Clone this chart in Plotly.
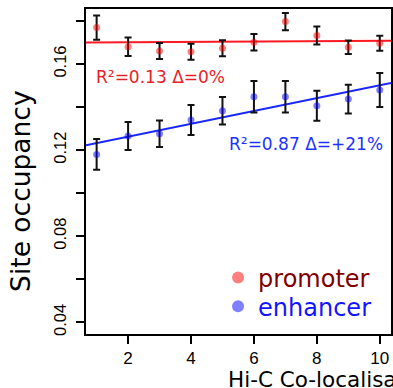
import plotly.graph_objects as go
import numpy as np

# ---- data ----
colocalisation = [1, 2, 3, 4, 5, 6, 7, 8, 9, 10]
promoter = [0.1769, 0.1680, 0.1660, 0.1657, 0.1673, 0.1701, 0.1797, 0.1732, 0.1678, 0.1696]
promoter_err = [0.0056, 0.0043, 0.0037, 0.0037, 0.0037, 0.0038, 0.0040, 0.0042, 0.0031, 0.0035]
enhancer = [0.1180, 0.1266, 0.1276, 0.1340, 0.1383, 0.1448, 0.1448, 0.1406, 0.1437, 0.1479]
enhancer_err = [0.0071, 0.0065, 0.0062, 0.0070, 0.0064, 0.0073, 0.0073, 0.0070, 0.0067, 0.0079]
y_tickvals = [0.04, 0.06, 0.08, 0.10, 0.12, 0.14, 0.16, 0.18]
y_ticktext = ["0.04", "", "0.08", "", "0.12", "", "0.16", ""]
x_tickvals = [2, 4, 6, 8, 10]
promoter_label = "R\u00b2=0.13 \u0394=0%"
enhancer_label = "R\u00b2=0.87 \u0394=+21%"

X_RANGE = [0.662, 10.357]
Y_RANGE = [0.03456, 0.18555]

FONT = "DejaVu Sans"
TICKFONT = "Liberation Sans"
RED_PT = "rgba(255,0,0,0.5)"
BLUE_PT = "rgba(0,0,255,0.5)"
RED_LINE = "rgb(255,25,35)"
BLUE_LINE = "rgb(25,40,255)"

def fit_line(xs, ys):
    slope, intercept = np.polyfit(xs, ys, 1)
    xl = np.array(X_RANGE)
    return xl, intercept + slope * xl

fig = go.Figure()

px_, py_ = fit_line(colocalisation, promoter)
ex_, ey_ = fit_line(colocalisation, enhancer)

fig.add_trace(go.Scatter(x=px_, y=py_, mode="lines", line=dict(color=RED_LINE, width=2),
                         showlegend=False, hoverinfo="skip"))
fig.add_trace(go.Scatter(x=ex_, y=ey_, mode="lines", line=dict(color=BLUE_LINE, width=2),
                         showlegend=False, hoverinfo="skip"))

fig.add_trace(go.Scatter(
    x=colocalisation, y=promoter, mode="markers",
    name="<span style='color:#800000'>promoter</span>",
    marker=dict(color=RED_PT, size=7),
    error_y=dict(type="data", array=promoter_err, color="#111111", thickness=2, width=3.5),
    legend="legend"))
fig.add_trace(go.Scatter(
    x=colocalisation, y=enhancer, mode="markers",
    name="<span style='color:#1414ff'>enhancer</span>",
    marker=dict(color=BLUE_PT, size=7),
    error_y=dict(type="data", array=enhancer_err, color="#111111", thickness=2, width=3.5),
    legend="legend2"))

legend_common = dict(font=dict(family=FONT, size=24), itemsizing="constant",
                     bgcolor="rgba(0,0,0,0)", xanchor="left", yanchor="middle")

fig.update_layout(
    width=393, height=388,
    margin=dict(l=86, r=0, t=9, b=54),
    plot_bgcolor="white", paper_bgcolor="white",
    font=dict(family=FONT, color="black"),
    legend=dict(x=0.433, y=0.1723, **legend_common),
    legend2=dict(x=0.433, y=0.084, **legend_common),
    xaxis=dict(range=X_RANGE, tickvals=x_tickvals, ticks="outside", ticklen=8, tickwidth=2,
               tickcolor="black", showline=True, linewidth=2, linecolor="black", mirror=True,
               showgrid=False, zeroline=False,
               tickfont=dict(family=TICKFONT, size=17, color="black")),
    yaxis=dict(range=Y_RANGE, tickvals=y_tickvals, ticktext=y_ticktext, ticks="outside",
               ticklen=8, tickwidth=2, tickcolor="black", showline=True, linewidth=2,
               linecolor="black", mirror=True, showgrid=False, zeroline=False, tickangle=-90,
               ticklabelstandoff=3,
               tickfont=dict(family=TICKFONT, size=16.5, color="black")),
    annotations=[
        dict(x=3.03, y=0.1541, xref="x", yref="y", text=promoter_label, showarrow=False,
             font=dict(family=FONT, size=17, color="rgb(232,30,40)")),
        dict(x=7.67, y=0.1228, xref="x", yref="y", text=enhancer_label, showarrow=False,
             font=dict(family=FONT, size=17, color="rgb(30,50,255)")),
        dict(x=(19.5 - 86) / 307, y=0.44, xref="paper", yref="paper", xanchor="center",
             yanchor="middle", text="Site occupancy", textangle=-90, showarrow=False,
             font=dict(family=FONT, size=26.5, color="black")),
        dict(x=(226.7 - 86) / 307, y=-0.14, xref="paper", yref="paper", xanchor="left",
             yanchor="middle", text="Hi-C Co-localisation", showarrow=False,
             font=dict(family=FONT, size=21.5, color="black")),
    ],
)

fig.write_html("out.html")
